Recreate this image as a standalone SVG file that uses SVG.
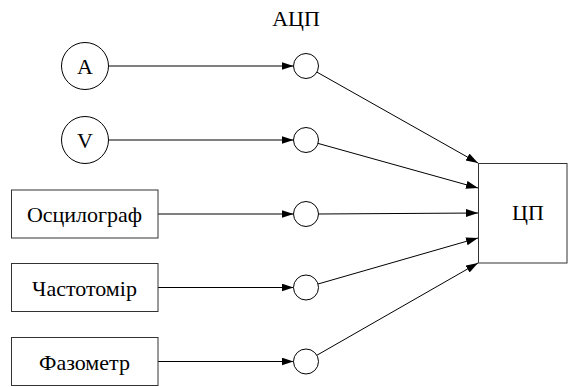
<svg xmlns="http://www.w3.org/2000/svg" width="568" height="387" viewBox="0 0 568 387">
  <style>
    .box { fill: #fff; stroke: #333; stroke-width: 1; }
    .ring { fill: #fff; stroke: #000; stroke-width: 1; }
    .wire { fill: none; stroke: #000; stroke-width: 1; }
    text { font-family: 'Liberation Serif', 'DejaVu Serif', serif; font-size: 22px; text-anchor: middle; fill: #000; }
  </style>
  <defs>
    <marker id="arrow" markerUnits="userSpaceOnUse" markerWidth="13" markerHeight="9" refX="12" refY="4" orient="auto">
      <path d="M0,0 L12,4 L0,8 z" fill="#000"/>
    </marker>
  </defs>
  <rect width="568" height="387" fill="#fff"/>

  <!-- connectors -->
  <g id="connectors">
    <line class="wire" x1="109" y1="66" x2="293.5" y2="66" marker-end="url(#arrow)"/>
    <line class="wire" x1="109" y1="140" x2="293.5" y2="140" marker-end="url(#arrow)"/>
    <line class="wire" x1="158" y1="214" x2="293.5" y2="214" marker-end="url(#arrow)"/>
    <line class="wire" x1="158" y1="287.5" x2="293.5" y2="287.5" marker-end="url(#arrow)"/>
    <line class="wire" x1="158" y1="361.5" x2="293.5" y2="361.5" marker-end="url(#arrow)"/>
    <line class="wire" x1="316.9" y1="72.1" x2="478" y2="163" marker-end="url(#arrow)"/>
    <line class="wire" x1="318" y1="143.4" x2="478" y2="188" marker-end="url(#arrow)"/>
    <line class="wire" x1="318.5" y1="214" x2="478" y2="213" marker-end="url(#arrow)"/>
    <line class="wire" x1="318" y1="284" x2="478" y2="238" marker-end="url(#arrow)"/>
    <line class="wire" x1="316.8" y1="355.3" x2="478" y2="263" marker-end="url(#arrow)"/>
  </g>

  <!-- sources -->
  <g id="ammeter">
    <circle class="ring" cx="85" cy="66" r="23.5"/>
    <text x="85" y="74" font-family="Liberation Serif">A</text>
  </g>
  <g id="voltmeter">
    <circle class="ring" cx="85" cy="140" r="23.5"/>
    <text x="85" y="148" font-family="Liberation Serif">V</text>
  </g>
  <g id="oscillograph">
    <rect class="box" x="11.5" y="190" width="146.5" height="48"/>
    <text x="84.5" y="222" font-family="Liberation Serif">Осцилограф</text>
  </g>
  <g id="frequency-meter">
    <rect class="box" x="11.5" y="263.5" width="146.5" height="48"/>
    <text x="84.5" y="295.5" font-family="Liberation Serif">Частотомір</text>
  </g>
  <g id="phase-meter">
    <rect class="box" x="11.5" y="337.5" width="146.5" height="48"/>
    <text x="84.5" y="369.5" font-family="Liberation Serif">Фазометр</text>
  </g>

  <!-- analog-to-digital converters -->
  <g id="adc">
    <text x="296" y="26" font-family="Liberation Serif">АЦП</text>
    <circle class="ring" cx="306" cy="66" r="12.5"/>
    <circle class="ring" cx="306" cy="140" r="12.5"/>
    <circle class="ring" cx="306" cy="214" r="12.5"/>
    <circle class="ring" cx="306" cy="287.5" r="12.5"/>
    <circle class="ring" cx="306" cy="361.5" r="12.5"/>
  </g>

  <!-- central processor -->
  <g id="cpu">
    <rect class="box" x="478.5" y="163.5" width="88.5" height="99.5"/>
    <text x="528" y="220" font-family="Liberation Serif">ЦП</text>
  </g>
</svg>
